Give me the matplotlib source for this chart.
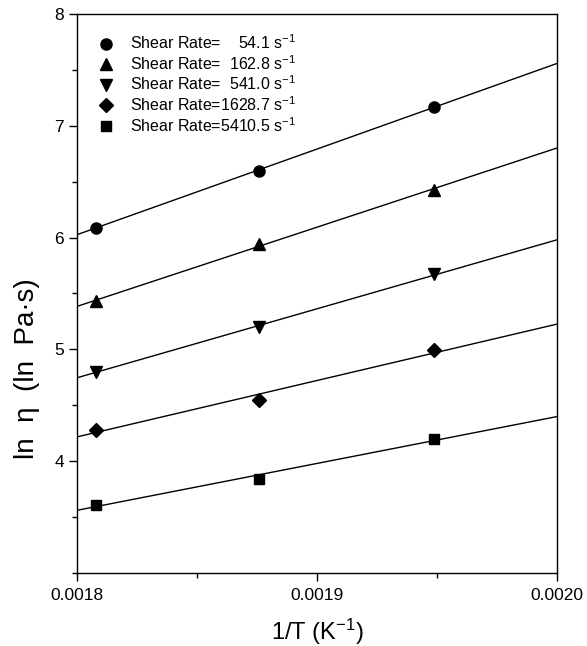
import numpy as np
import matplotlib
matplotlib.use("Agg")
import matplotlib.pyplot as plt
from matplotlib.ticker import MultipleLocator, FixedLocator, FormatStrFormatter

plt.rcParams['font.family'] = ['Liberation Sans', 'DejaVu Sans']
plt.rcParams['mathtext.fontset'] = 'custom'
plt.rcParams['mathtext.rm'] = 'Liberation Sans'
plt.rcParams['mathtext.it'] = 'Liberation Sans:italic'

# Data: 1/T at 280, 260, 240 C
inv_T = [1 / 553.15, 1 / 533.15, 1 / 513.15]
ln_eta_54 = [6.09, 6.60, 7.17]
ln_eta_163 = [5.43, 5.94, 6.43]
ln_eta_541 = [4.80, 5.20, 5.67]
ln_eta_1629 = [4.28, 4.55, 4.99]
ln_eta_5411 = [3.61, 3.84, 4.20]

series = [ln_eta_54, ln_eta_163, ln_eta_541, ln_eta_1629, ln_eta_5411]
labels = [r"Shear Rate=    54.1 s$^{-1}$",
          r"Shear Rate=  162.8 s$^{-1}$",
          r"Shear Rate=  541.0 s$^{-1}$",
          r"Shear Rate=1628.7 s$^{-1}$",
          r"Shear Rate=5410.5 s$^{-1}$"]
markers = ['o', '^', 'v', 'D', 's']
msizes = [8, 8.5, 8.5, 7.5, 7]
y_major = [4, 5, 6, 7, 8]

fig = plt.figure(figsize=(5.87, 6.46), dpi=100)
ax = fig.add_axes([0.1312, 0.1135, 0.8177, 0.8644])

x = np.array(inv_T)
xfit = np.array([0.0018, 0.0020])
for ys, lab, m, ms in zip(series, labels, markers, msizes):
    k, b = np.polyfit(x, np.array(ys), 1)
    ax.plot(xfit, k * xfit + b, color='black', lw=1.0)
    ax.plot(x, ys, linestyle='none', marker=m, color='black', markersize=ms, label=lab)

ax.set_xlim(0.0018, 0.0020)
ax.set_ylim(3, 8)
ax.xaxis.set_major_locator(MultipleLocator(0.0001))
ax.xaxis.set_minor_locator(MultipleLocator(0.00005))
ax.xaxis.set_major_formatter(FormatStrFormatter('%.4f'))
ax.yaxis.set_major_locator(FixedLocator(y_major))
ax.yaxis.set_minor_locator(MultipleLocator(0.5))
ax.tick_params(which='both', direction='out', top=False, right=False, labelsize=12.5, width=1.0)
ax.tick_params(which='major', length=6)
ax.tick_params(which='minor', length=3.5)
ax.tick_params(axis='x', which='major', pad=5)
for s in ax.spines.values():
    s.set_linewidth(1.0)

ax.set_xlabel(r"1/T (K$^{-1}$)", fontsize=17, labelpad=10)
ax.set_ylabel("ln  η  (ln  Pa·s)", fontsize=20)
ax.yaxis.set_label_coords(-0.077, 0.365)

leg = ax.legend(loc='upper left', bbox_to_anchor=(0.03, 0.977), frameon=False,
                fontsize=11.5, handlelength=1.0, handletextpad=1.0,
                labelspacing=0.12, borderaxespad=0)

fig.savefig("out.png", dpi=100)
